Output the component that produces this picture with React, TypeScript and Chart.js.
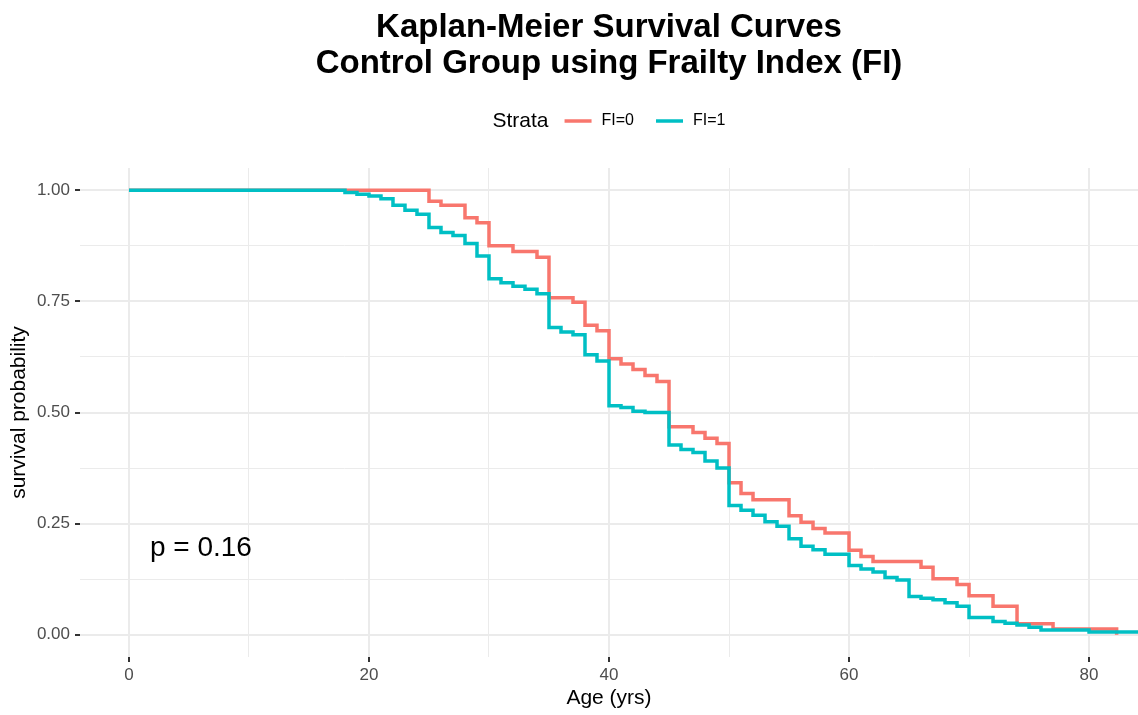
import React, { useEffect, useRef } from "react";
import { Chart, registerables } from "chart.js";

Chart.register(...registerables);

const FONT = "'Liberation Sans', Arial, sans-serif";

const TITLE_LINES = ["Kaplan-Meier Survival Curves", "Control Group using Frailty Index (FI)"];
const LEGEND_TITLE = "Strata";
const STRATA = ["FI=0", "FI=1"];
const STRATA_COLORS = ["#F8766D", "#00BFC4"];
const X_TITLE = "Age (yrs)";
const Y_TITLE = "survival probability";

const X_RANGE = [-4.08, 84.08];
const Y_RANGE = [-0.05, 1.05];
const X_MAJOR = [0, 20, 40, 60, 80];
const X_MINOR = [10, 30, 50, 70];
const Y_MAJOR = [0, 0.25, 0.5, 0.75, 1];
const Y_MINOR = [0.125, 0.375, 0.625, 0.875];

const PVAL_TEXT = "p = 0.16";
const PVAL_X = 1.75;
const PVAL_Y = 0.195;

// FI=0 stratum (event times and survival after each step)
const FI0_TIME = [0, 25, 26, 28, 29, 30, 32, 34, 35, 37, 38, 39, 40, 41, 42, 43, 44, 45, 47, 48, 49, 50, 51, 52, 55, 56, 57, 58, 60, 61, 62, 66, 67, 69, 70, 72, 74, 77, 82.3];
const FI0_SURV = [1, 0.975, 0.966, 0.938, 0.927, 0.875, 0.862, 0.849, 0.758, 0.748, 0.696, 0.684, 0.621, 0.609, 0.597, 0.583, 0.570, 0.468, 0.455, 0.442, 0.430, 0.342, 0.318, 0.304, 0.268, 0.253, 0.239, 0.229, 0.190, 0.176, 0.165, 0.152, 0.126, 0.113, 0.088, 0.064, 0.025, 0.013, 0.0];

// FI=1 stratum
const FI1_TIME = [0, 18, 19, 20, 21, 22, 23, 24, 25, 26, 27, 28, 29, 30, 31, 32, 33, 34, 35, 36, 37, 38, 39, 40, 41, 42, 43, 45, 46, 47, 48, 49, 50, 51, 52, 53, 54, 55, 56, 57, 58, 60, 61, 62, 63, 64, 65, 66, 67, 68, 69, 70, 72, 73, 74, 75, 76, 80, 84.5];
const FI1_SURV = [1, 0.995, 0.991, 0.987, 0.981, 0.966, 0.955, 0.946, 0.916, 0.905, 0.898, 0.880, 0.852, 0.801, 0.792, 0.784, 0.777, 0.767, 0.691, 0.681, 0.675, 0.630, 0.616, 0.515, 0.511, 0.503, 0.500, 0.427, 0.417, 0.410, 0.391, 0.375, 0.291, 0.280, 0.269, 0.254, 0.244, 0.216, 0.199, 0.191, 0.181, 0.156, 0.148, 0.141, 0.129, 0.123, 0.086, 0.082, 0.079, 0.072, 0.064, 0.039, 0.030, 0.026, 0.022, 0.017, 0.011, 0.006, 0.006];

const toPoints = (t: number[], s: number[]) => t.map((x, i) => ({ x, y: s[i] }));

const legendPlugin = {
  id: "strataLegend",
  afterDraw(chart: any) {
    const { ctx, chartArea } = chart;
    const y = 121;
    ctx.save();
    ctx.textBaseline = "middle";
    ctx.textAlign = "left";
    ctx.font = `21px ${FONT}`;
    const titleW = ctx.measureText(LEGEND_TITLE).width;
    ctx.font = `16px ${FONT}`;
    const items = chart.data.datasets.map((d: any) => ({
      label: d.label,
      color: d.borderColor,
      w: ctx.measureText(d.label).width,
    }));
    const gapTitle = 16, lineLen = 27, gapLabel = 10, gapItem = 22;
    let total = titleW;
    items.forEach((it: any, i: number) => {
      total += (i === 0 ? gapTitle : gapItem) + lineLen + gapLabel + it.w;
    });
    let x = (chartArea.left + chartArea.right) / 2 - total / 2;
    ctx.fillStyle = "#000";
    ctx.font = `21px ${FONT}`;
    ctx.fillText(LEGEND_TITLE, x, y);
    x += titleW;
    ctx.font = `16px ${FONT}`;
    items.forEach((it: any, i: number) => {
      x += i === 0 ? gapTitle : gapItem;
      ctx.strokeStyle = it.color;
      ctx.lineWidth = 3.5;
      ctx.beginPath();
      ctx.moveTo(x, y);
      ctx.lineTo(x + lineLen, y);
      ctx.stroke();
      x += lineLen + gapLabel;
      ctx.fillStyle = "#000";
      ctx.fillText(it.label, x, y);
      x += it.w;
    });
    ctx.restore();
  },
};

const pvalPlugin = {
  id: "pvalText",
  afterDatasetsDraw(chart: any) {
    const { ctx, scales } = chart;
    ctx.save();
    ctx.font = `28px ${FONT}`;
    ctx.fillStyle = "#000";
    ctx.textBaseline = "middle";
    ctx.textAlign = "left";
    ctx.fillText(PVAL_TEXT, scales.x.getPixelForValue(PVAL_X), scales.y.getPixelForValue(PVAL_Y));
    ctx.restore();
  },
};

export default function App() {
  const ref = useRef<HTMLCanvasElement | null>(null);

  useEffect(() => {
    if (!ref.current) return;
    Chart.defaults.font.family = FONT;
    const chart = new Chart(ref.current, {
      type: "line",
      data: {
        datasets: [
          {
            label: STRATA[0],
            data: toPoints(FI0_TIME, FI0_SURV),
            borderColor: STRATA_COLORS[0],
            backgroundColor: STRATA_COLORS[0],
            borderWidth: 3.5,
            stepped: true,
            pointRadius: 0,
            fill: false,
            order: 1,
          },
          {
            label: STRATA[1],
            data: toPoints(FI1_TIME, FI1_SURV),
            borderColor: STRATA_COLORS[1],
            backgroundColor: STRATA_COLORS[1],
            borderWidth: 3.5,
            stepped: true,
            pointRadius: 0,
            fill: false,
            order: 0,
          },
        ],
      },
      options: {
        animation: false,
        responsive: false,
        devicePixelRatio: 1,
        layout: { padding: 0 },
        plugins: {
          legend: { display: false },
          tooltip: { enabled: false },
          title: {
            display: true,
            fullSize: false,
            text: TITLE_LINES,
            color: "#000",
            font: { family: FONT, size: 33, weight: "bold", lineHeight: "36px" },
            padding: { top: 10, bottom: 86 },
          },
        },
        scales: {
          x: {
            type: "linear",
            min: X_RANGE[0],
            max: X_RANGE[1],
            afterBuildTicks: (s: any) => {
              s.ticks = [...X_MAJOR, ...X_MINOR].sort((a, b) => a - b).map((v) => ({ value: v }));
            },
            afterFit: (s: any) => {
              s.height = 58;
            },
            ticks: {
              autoSkip: false,
              maxRotation: 0,
              padding: 3,
              color: "#4D4D4D",
              font: { family: FONT, size: 17 },
              callback: (v: any) => (X_MAJOR.includes(Number(v)) ? String(v) : ""),
            },
            grid: {
              color: "#EBEBEB",
              lineWidth: (c: any) => (X_MAJOR.includes(c.tick?.value) ? 2 : 1),
              drawTicks: true,
              tickLength: 5,
              tickWidth: 2,
              tickColor: (c: any) => (X_MAJOR.includes(c.tick?.value) ? "#333333" : "rgba(0,0,0,0)"),
            },
            border: { display: false },
            title: {
              display: true,
              text: X_TITLE,
              color: "#000",
              font: { family: FONT, size: 21 },
              padding: { top: 0, bottom: 4 },
            },
          },
          y: {
            type: "linear",
            min: Y_RANGE[0],
            max: Y_RANGE[1],
            afterBuildTicks: (s: any) => {
              s.ticks = [...Y_MAJOR, ...Y_MINOR].sort((a, b) => a - b).map((v) => ({ value: v }));
            },
            afterFit: (s: any) => {
              s.width = 80;
            },
            ticks: {
              autoSkip: false,
              padding: 5,
              color: "#4D4D4D",
              font: { family: FONT, size: 17 },
              callback: (v: any) => (Y_MAJOR.includes(Number(v)) ? Number(v).toFixed(2) : ""),
            },
            grid: {
              color: "#EBEBEB",
              lineWidth: (c: any) => (Y_MAJOR.includes(c.tick?.value) ? 2 : 1),
              drawTicks: true,
              tickLength: 5,
              tickWidth: 2,
              tickColor: (c: any) => (Y_MAJOR.includes(c.tick?.value) ? "#333333" : "rgba(0,0,0,0)"),
            },
            border: { display: false },
            title: {
              display: true,
              text: Y_TITLE,
              color: "#000",
              font: { family: FONT, size: 21 },
              padding: { top: 7, bottom: 0 },
            },
          },
        },
      },
      plugins: [legendPlugin, pvalPlugin],
    } as any);
    return () => chart.destroy();
  }, []);

  return (
    <div style={{ position: "absolute", left: 0, top: 0, width: 1138, height: 715, background: "#fff" }}>
      <canvas ref={ref} width={1138} height={715} style={{ width: 1138, height: 715, display: "block" }} />
    </div>
  );
}
